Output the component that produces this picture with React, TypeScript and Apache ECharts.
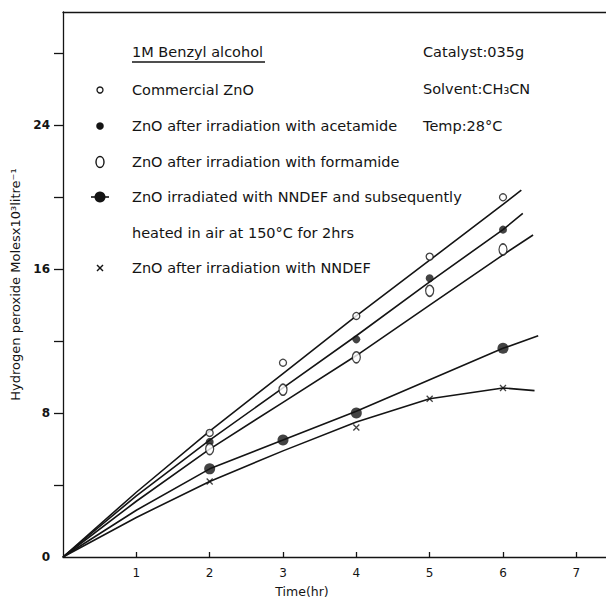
import { useEffect, useRef } from "react";
import * as echarts from "echarts";

// Measured H2O2 yields (moles x 10^3 per litre) against irradiation time (hr)
const commercialTime = [2, 3, 4, 5, 6];
const commercialYield = [6.9, 10.8, 13.4, 16.7, 20.0];

const acetamideTime = [2, 4, 5, 6];
const acetamideYield = [6.4, 12.1, 15.5, 18.2];

const formamideTime = [2, 3, 4, 5, 6];
const formamideYield = [6.0, 9.3, 11.1, 14.8, 17.1];

const heatedTime = [2, 3, 4, 6];
const heatedYield = [4.9, 6.5, 8.0, 11.6];

const nndefTime = [2, 4, 5, 6];
const nndefYield = [4.2, 7.2, 8.8, 9.4];

// Hand-drawn trend curves through each set
const commercialFitT = [0, 1, 2, 3, 4, 5, 6, 6.25];
const commercialFitY = [0, 3.6, 7.0, 10.2, 13.4, 16.5, 19.6, 20.4];
const acetamideFitT = [0, 1, 2, 3, 4, 5, 6, 6.27];
const acetamideFitY = [0, 3.4, 6.5, 9.4, 12.3, 15.3, 18.2, 19.1];
const formamideFitT = [0, 1, 2, 3, 4, 5, 6, 6.41];
const formamideFitY = [0, 3.1, 6.0, 8.6, 11.2, 14.0, 16.8, 17.9];
const heatedFitT = [0, 1, 2, 3, 4, 5, 6, 6.48];
const heatedFitY = [0, 2.6, 4.9, 6.5, 8.1, 9.85, 11.6, 12.3];
const nndefFitT = [0, 1, 2, 3, 4, 5, 6, 6.43];
const nndefFitY = [0, 2.2, 4.2, 5.9, 7.5, 8.8, 9.4, 9.25];

const xTickValues = [1, 2, 3, 4, 5, 6, 7];
const yTickValues = [4, 8, 12, 16, 20, 24, 28];
const yLabelValues = [0, 8, 16, 24];

const legendLabels = [
  "Commercial ZnO",
  "ZnO after irradiation with acetamide",
  "ZnO after irradiation with formamide",
  "ZnO irradiated with NNDEF and subsequently",
  "heated in air at 150°C for 2hrs",
  "ZnO after irradiation with NNDEF",
];
const conditionLabels = ["Catalyst:035g", "Solvent:CH₃CN", "Temp:28°C"];
const titleLabel = "1M Benzyl alcohol";

const INK = "#141414";
const FONT = "DejaVu Sans";
const CROSS = "path://M0,0L10,10M0,10L10,0";

const zip = (t: number[], y: number[]) => t.map((v, i) => [v, y[i]]);

function fitLine(name: string, t: number[], y: number[]) {
  return {
    name,
    type: "line",
    data: zip(t, y),
    showSymbol: false,
    smooth: false,
    lineStyle: { color: INK, width: 1.6 },
    z: 2,
    silent: true,
  };
}

function points(name: string, t: number[], y: number[], style: any) {
  return {
    name,
    type: "scatter",
    data: zip(t, y),
    z: 3,
    ...style,
  };
}

const openSmall = {
  symbol: "circle",
  symbolSize: 7,
  itemStyle: { color: "#fff", borderColor: INK, borderWidth: 1.3 },
};
const filledSmall = {
  symbol: "circle",
  symbolSize: 8,
  itemStyle: { color: INK },
};
const openLarge = {
  symbol: "circle",
  symbolSize: [8, 11],
  itemStyle: { color: "#fff", borderColor: INK, borderWidth: 1.4 },
};
const filledLarge = {
  symbol: "circle",
  symbolSize: 11,
  itemStyle: { color: INK },
};
const cross = {
  symbol: CROSS,
  symbolSize: 6,
  itemStyle: { color: "none", borderColor: INK, borderWidth: 1.3 },
};

const textStyle = (x: number, y: number, text: string, size = 14.5) => ({
  type: "text",
  x,
  y,
  style: {
    text,
    fill: INK,
    font: `${size}px ${FONT}`,
    align: "left",
    verticalAlign: "middle",
  },
});

const LX = 100;
const TX = 132;
const rows = [90, 126, 162, 197, 233, 268];

const option: any = {
  animation: false,
  backgroundColor: "#fff",
  grid: {
    left: 63,
    top: 12,
    width: 550,
    bottom: 45,
    outerBoundsMode: "none",
    containLabel: false,
    show: false,
  },
  xAxis: [
    {
      type: "value",
      min: 0,
      max: 7.5,
      interval: 1,
      splitLine: { show: false },
      axisLine: { show: true, lineStyle: { color: INK, width: 1.3 } },
      axisTick: {
        show: true,
        inside: true,
        length: 5,
        customValues: xTickValues,
        lineStyle: { color: INK, width: 1.3 },
      },
      axisLabel: {
        customValues: xTickValues,
        color: INK,
        fontFamily: FONT,
        fontSize: 12,
        margin: 10,
      },
      name: "Time(hr)",
      nameLocation: "middle",
      nameGap: 28,
      nameTextStyle: {
        color: INK,
        fontFamily: FONT,
        fontSize: 12.5,
        padding: [0, 72, 0, 0],
      },
    },
    {
      // top frame edge
      type: "value",
      position: "top",
      min: 0,
      max: 7.5,
      splitLine: { show: false },
      axisLine: { show: true, onZero: false, lineStyle: { color: INK, width: 1.3 } },
      axisTick: { show: false },
      axisLabel: { show: false },
    },
  ],
  yAxis: {
    type: "value",
    min: 0,
    max: 30.3,
    interval: 4,
    splitLine: { show: false },
    axisLine: { show: true, onZero: false, lineStyle: { color: INK, width: 1.3 } },
    axisTick: {
      show: true,
      length: 9,
      customValues: yTickValues,
      lineStyle: { color: INK, width: 1.3 },
    },
    axisLabel: {
      customValues: yLabelValues,
      color: INK,
      fontFamily: FONT,
      fontSize: 12,
      fontWeight: "bold",
      margin: 13,
    },
    name: "Hydrogen peroxide Molesx10³litre⁻¹",
    nameLocation: "middle",
    nameRotate: 90,
    nameGap: 37,
    nameTextStyle: { color: INK, fontFamily: FONT, fontSize: 13 },
  },
  series: [
    fitLine("Commercial ZnO", commercialFitT, commercialFitY),
    fitLine("acetamide", acetamideFitT, acetamideFitY),
    fitLine("formamide", formamideFitT, formamideFitY),
    fitLine("NNDEF heated", heatedFitT, heatedFitY),
    fitLine("NNDEF", nndefFitT, nndefFitY),
    points("Commercial ZnO", commercialTime, commercialYield, openSmall),
    points("acetamide", acetamideTime, acetamideYield, filledSmall),
    points("formamide", formamideTime, formamideYield, openLarge),
    points("NNDEF heated", heatedTime, heatedYield, filledLarge),
    points("NNDEF", nndefTime, nndefYield, cross),
  ],
  graphic: [
    textStyle(TX, 52, titleLabel),
    {
      type: "line",
      shape: { x1: TX, y1: 62, x2: TX + 133, y2: 62 },
      style: { stroke: INK, lineWidth: 1.3 },
    },
    ...conditionLabels.map((t, i) => textStyle(423, 52 + i * 37, t)),
    ...legendLabels.map((t, i) => textStyle(TX, rows[i], t)),
    {
      type: "circle",
      shape: { cx: LX, cy: rows[0], r: 3 },
      style: { fill: "#fff", stroke: INK, lineWidth: 1.3 },
    },
    {
      type: "circle",
      shape: { cx: LX, cy: rows[1], r: 3.8 },
      style: { fill: INK },
    },
    {
      type: "ellipse",
      shape: { cx: LX, cy: rows[2], rx: 4, ry: 5.5 },
      style: { fill: "#fff", stroke: INK, lineWidth: 1.4 },
    },
    {
      type: "line",
      shape: { x1: LX - 9, y1: rows[3], x2: LX + 9, y2: rows[3] },
      style: { stroke: INK, lineWidth: 1.6 },
    },
    {
      type: "circle",
      shape: { cx: LX, cy: rows[3], r: 5.5 },
      style: { fill: INK },
    },
    {
      type: "line",
      shape: { x1: LX - 3, y1: rows[5] - 3, x2: LX + 3, y2: rows[5] + 3 },
      style: { stroke: INK, lineWidth: 1.4 },
    },
    {
      type: "line",
      shape: { x1: LX - 3, y1: rows[5] + 3, x2: LX + 3, y2: rows[5] - 3 },
      style: { stroke: INK, lineWidth: 1.4 },
    },
  ],
};

export default function App() {
  const ref = useRef<HTMLDivElement>(null);
  useEffect(() => {
    const chart = echarts.init(ref.current!, null, { renderer: "svg" });
    chart.setOption(option);
    return () => chart.dispose();
  }, []);
  return (
    <div
      ref={ref}
      style={{
        position: "fixed",
        left: 0,
        top: 0,
        width: 606,
        height: 602,
        background: "#fff",
      }}
    />
  );
}
